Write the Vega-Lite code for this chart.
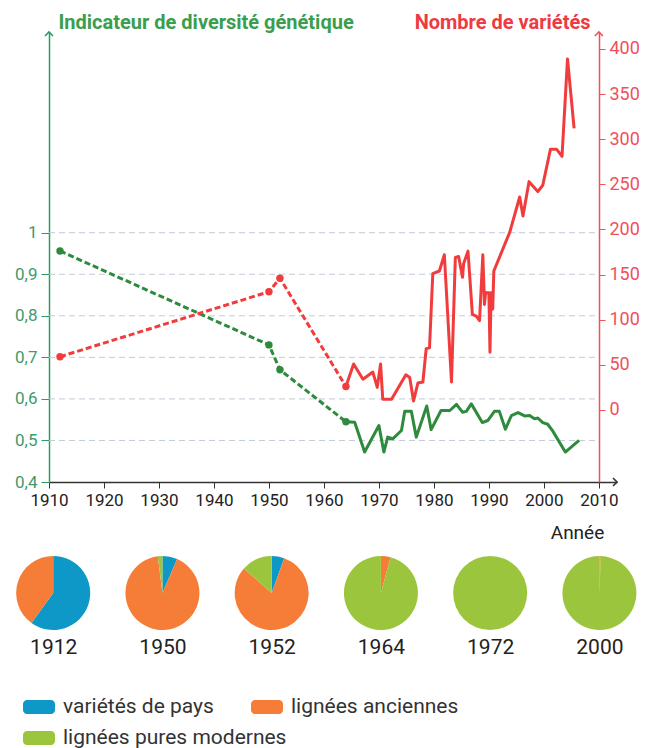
{
  "$schema": "https://vega.github.io/schema/vega-lite/v6.json",
  "padding": {"left": 14, "top": 12, "right": 0, "bottom": 0},
  "background": "white",
  "config": {"font": "Roboto", "view": {"stroke": null}},
  "spacing": 14,
  "vconcat": [
    {
      "width": 568,
      "height": 450,
      "encoding": {
        "x": {
          "field": "year", "type": "quantitative",
          "scale": {"domain": [1910, 2013.3], "nice": false, "zero": false},
          "axis": {
            "values": [1910, 1920, 1930, 1940, 1950, 1960, 1970, 1980, 1990, 2000, 2010],
            "format": "d", "grid": false,
            "domainColor": "#333333", "domainWidth": 1.5, "tickColor": "#333333", "tickSize": 6,
            "labelColor": "#222222", "labelFontSize": 17, "labelPadding": 4, "labelFlush": false, "labelOverlap": false,
            "title": "Année", "titleX": 528, "titleY": 50, "titleAlign": "center", "titleBaseline": "middle",
            "titleFontSize": 19, "titleFontWeight": "normal", "titleColor": "#222222"
          }
        }
      },
      "layer": [
        {
          "data": {"values": [
            {"seg": "grid", "year": 1910, "year2": 2010, "div": 0.5}, {"seg": "grid", "year": 1910, "year2": 2010, "div": 0.6},
            {"seg": "grid", "year": 1910, "year2": 2010, "div": 0.7}, {"seg": "grid", "year": 1910, "year2": 2010, "div": 0.8},
            {"seg": "grid", "year": 1910, "year2": 2010, "div": 0.9}, {"seg": "grid", "year": 1910, "year2": 2010, "div": 1.0},
            {"seg": "arrowup", "year": 1910, "div": 1.483},
            {"seg": "arrowred", "year": 2010, "div": 1.483},
            {"seg": "arrowright", "year": 2013.3, "div": 0.4},
            {"seg": "dash", "year": 1912, "div": 0.956}, {"seg": "dash", "year": 1950, "div": 0.730},
            {"seg": "dash", "year": 1952, "div": 0.670}, {"seg": "dash", "year": 1964, "div": 0.545},
            {"seg": "solid", "year": 1964, "div": 0.545}, {"seg": "solid", "year": 1965.6, "div": 0.544},
            {"seg": "solid", "year": 1967.4, "div": 0.472}, {"seg": "solid", "year": 1970, "div": 0.536},
            {"seg": "solid", "year": 1970.9, "div": 0.472}, {"seg": "solid", "year": 1971.6, "div": 0.508},
            {"seg": "solid", "year": 1972.5, "div": 0.504}, {"seg": "solid", "year": 1974.1, "div": 0.524},
            {"seg": "solid", "year": 1974.7, "div": 0.570}, {"seg": "solid", "year": 1975.9, "div": 0.570},
            {"seg": "solid", "year": 1976.8, "div": 0.508}, {"seg": "solid", "year": 1978.7, "div": 0.583},
            {"seg": "solid", "year": 1979.5, "div": 0.526}, {"seg": "solid", "year": 1981.3, "div": 0.572},
            {"seg": "solid", "year": 1982.9, "div": 0.572}, {"seg": "solid", "year": 1984.1, "div": 0.587},
            {"seg": "solid", "year": 1985.2, "div": 0.568}, {"seg": "solid", "year": 1985.9, "div": 0.570},
            {"seg": "solid", "year": 1986.8, "div": 0.588}, {"seg": "solid", "year": 1988.8, "div": 0.543},
            {"seg": "solid", "year": 1989.8, "div": 0.548}, {"seg": "solid", "year": 1991, "div": 0.570},
            {"seg": "solid", "year": 1991.9, "div": 0.570}, {"seg": "solid", "year": 1993, "div": 0.527},
            {"seg": "solid", "year": 1994.1, "div": 0.560}, {"seg": "solid", "year": 1995.3, "div": 0.567},
            {"seg": "solid", "year": 1996.5, "div": 0.559}, {"seg": "solid", "year": 1997.4, "div": 0.560},
            {"seg": "solid", "year": 1998.3, "div": 0.552}, {"seg": "solid", "year": 1998.9, "div": 0.554},
            {"seg": "solid", "year": 1999.8, "div": 0.543}, {"seg": "solid", "year": 2000.7, "div": 0.539},
            {"seg": "solid", "year": 2001.6, "div": 0.523}, {"seg": "solid", "year": 2003.9, "div": 0.472},
            {"seg": "solid", "year": 2006.4, "div": 0.500}
          ]},
          "encoding": {
            "y": {
              "field": "div", "type": "quantitative",
              "scale": {"domain": [0.4, 1.483], "nice": false, "zero": false},
              "axis": {
                "values": [0.4, 0.5, 0.6, 0.7, 0.8, 0.9, 1.0],
                "labelExpr": "datum.value >= 0.99 ? '1' : replace(format(datum.value, '.1f'), '.', ',')",
                "grid": false,
                "domainColor": "#2e9a66", "domainWidth": 1.5, "tickColor": "#2e9a66", "tickSize": 8,
                "labelColor": "#3f9a6c", "labelFontSize": 17, "labelPadding": 4,
                "title": "Indicateur de diversité génétique", "titleAngle": 0, "titleX": 9, "titleY": -4,
                "titleAlign": "left", "titleBaseline": "alphabetic", "titleColor": "#3a9e4e",
                "titleFontSize": 20, "titleFontWeight": "bold"
              }
            }
          },
          "layer": [
            {
              "transform": [{"filter": "datum.seg === 'grid'"}],
              "mark": {"type": "rule", "color": "#bfcad8", "strokeWidth": 1, "strokeDash": [6, 4]},
              "encoding": {"x2": {"field": "year2"}}
            },
            {
              "transform": [{"filter": "datum.seg === 'dash'"}],
              "mark": {"type": "line", "color": "#2e8b3d", "strokeWidth": 3, "strokeDash": [6, 3]}
            },
            {
              "transform": [{"filter": "datum.seg === 'dash'"}],
              "mark": {"type": "point", "filled": true, "opacity": 1, "color": "#2e8b3d", "size": 55}
            },
            {
              "transform": [{"filter": "datum.seg === 'solid'"}],
              "mark": {"type": "line", "color": "#2e8b3d", "strokeWidth": 3, "strokeJoin": "round"}
            },
            {
              "transform": [{"filter": "datum.seg === 'arrowup'"}],
              "mark": {"type": "point", "shape": "M-1,1L0,0L1,1", "filled": false, "stroke": "#2e9a66", "strokeWidth": 1.6, "size": 64, "opacity": 1}
            },
            {
              "transform": [{"filter": "datum.seg === 'arrowred'"}],
              "mark": {"type": "point", "shape": "M-1,1L0,0L1,1", "filled": false, "stroke": "#f0505a", "strokeWidth": 1.6, "size": 64, "opacity": 1}
            },
            {
              "transform": [{"filter": "datum.seg === 'arrowright'"}],
              "mark": {"type": "point", "shape": "M-1,-1L0,0L-1,1", "filled": false, "stroke": "#333333", "strokeWidth": 1.6, "size": 64, "opacity": 1}
            }
          ]
        },
        {
          "data": {"values": [
            {"seg": "dash", "year": 1912, "n": 59}, {"seg": "dash", "year": 1950, "n": 131},
            {"seg": "dash", "year": 1952, "n": 146}, {"seg": "dash", "year": 1964, "n": 26},
            {"seg": "solid", "year": 1964, "n": 26}, {"seg": "solid", "year": 1965.4, "n": 51},
            {"seg": "solid", "year": 1967.1, "n": 34}, {"seg": "solid", "year": 1968.9, "n": 42},
            {"seg": "solid", "year": 1969.7, "n": 25}, {"seg": "solid", "year": 1970.3, "n": 51},
            {"seg": "solid", "year": 1970.7, "n": 12}, {"seg": "solid", "year": 1972.3, "n": 12},
            {"seg": "solid", "year": 1974.9, "n": 39}, {"seg": "solid", "year": 1975.6, "n": 36},
            {"seg": "solid", "year": 1976.3, "n": 10}, {"seg": "solid", "year": 1977.1, "n": 30},
            {"seg": "solid", "year": 1978, "n": 31}, {"seg": "solid", "year": 1978.6, "n": 68},
            {"seg": "solid", "year": 1979.2, "n": 69}, {"seg": "solid", "year": 1979.8, "n": 151},
            {"seg": "solid", "year": 1981, "n": 154}, {"seg": "solid", "year": 1981.9, "n": 172},
            {"seg": "solid", "year": 1983.2, "n": 31}, {"seg": "solid", "year": 1983.9, "n": 169},
            {"seg": "solid", "year": 1984.5, "n": 170}, {"seg": "solid", "year": 1985.2, "n": 147},
            {"seg": "solid", "year": 1985.4, "n": 162}, {"seg": "solid", "year": 1986.2, "n": 176},
            {"seg": "solid", "year": 1987, "n": 106}, {"seg": "solid", "year": 1987.7, "n": 104},
            {"seg": "solid", "year": 1988.3, "n": 99}, {"seg": "solid", "year": 1988.9, "n": 172},
            {"seg": "solid", "year": 1989.2, "n": 117}, {"seg": "solid", "year": 1989.4, "n": 130},
            {"seg": "solid", "year": 1990, "n": 130}, {"seg": "solid", "year": 1990.2, "n": 64},
            {"seg": "solid", "year": 1990.4, "n": 130}, {"seg": "solid", "year": 1990.7, "n": 112},
            {"seg": "solid", "year": 1990.9, "n": 154}, {"seg": "solid", "year": 1993.8, "n": 197},
            {"seg": "solid", "year": 1995.6, "n": 236}, {"seg": "solid", "year": 1996.2, "n": 215},
            {"seg": "solid", "year": 1997.3, "n": 253}, {"seg": "solid", "year": 1998.9, "n": 242},
            {"seg": "solid", "year": 1999.8, "n": 249}, {"seg": "solid", "year": 2001.2, "n": 289},
            {"seg": "solid", "year": 2002.3, "n": 289}, {"seg": "solid", "year": 2003.3, "n": 281},
            {"seg": "solid", "year": 2004.3, "n": 389}, {"seg": "solid", "year": 2005.5, "n": 312}
          ]},
          "encoding": {
            "y": {
              "field": "n", "type": "quantitative",
              "scale": {"domain": [-79.8, 418.8], "nice": false, "zero": false},
              "axis": {
                "orient": "right", "offset": -18,
                "values": [0, 50, 100, 150, 200, 250, 300, 350, 400],
                "grid": false,
                "domainColor": "#f0505a", "domainWidth": 1.5, "tickColor": "#f0505a", "tickSize": 6,
                "labelColor": "#f0505a", "labelFontSize": 18, "labelPadding": 4,
                "title": "Nombre de variétés", "titleAngle": 0, "titleX": -9, "titleY": -4,
                "titleAlign": "right", "titleBaseline": "alphabetic", "titleColor": "#ee3a42",
                "titleFontSize": 20, "titleFontWeight": "bold"
              }
            }
          },
          "layer": [
            {
              "transform": [{"filter": "datum.seg === 'dash'"}],
              "mark": {"type": "line", "color": "#f03c3c", "strokeWidth": 3, "strokeDash": [6, 3]}
            },
            {
              "transform": [{"filter": "datum.seg === 'dash'"}],
              "mark": {"type": "point", "filled": true, "opacity": 1, "color": "#f03c3c", "size": 55}
            },
            {
              "transform": [{"filter": "datum.seg === 'solid'"}],
              "mark": {"type": "line", "color": "#f03c3c", "strokeWidth": 3, "strokeJoin": "round"}
            }
          ]
        }
      ],
      "resolve": {"scale": {"y": "independent"}}
    },
    {
      "width": 554.6,
      "height": 74,
      "data": {"values": [
        {"year": "1912", "type": "variétés de pays", "pct": 60},
        {"year": "1912", "type": "lignées anciennes", "pct": 40},
        {"year": "1912", "type": "lignées pures modernes", "pct": 0},
        {"year": "1950", "type": "variétés de pays", "pct": 6.5},
        {"year": "1950", "type": "lignées anciennes", "pct": 91.5},
        {"year": "1950", "type": "lignées pures modernes", "pct": 2},
        {"year": "1952", "type": "variétés de pays", "pct": 5.5},
        {"year": "1952", "type": "lignées anciennes", "pct": 81},
        {"year": "1952", "type": "lignées pures modernes", "pct": 13.5},
        {"year": "1964", "type": "variétés de pays", "pct": 0},
        {"year": "1964", "type": "lignées anciennes", "pct": 4.2},
        {"year": "1964", "type": "lignées pures modernes", "pct": 95.8},
        {"year": "1972", "type": "variétés de pays", "pct": 0},
        {"year": "1972", "type": "lignées anciennes", "pct": 0},
        {"year": "1972", "type": "lignées pures modernes", "pct": 100},
        {"year": "2000", "type": "variétés de pays", "pct": 0},
        {"year": "2000", "type": "lignées anciennes", "pct": 0.6},
        {"year": "2000", "type": "lignées pures modernes", "pct": 99.4}
      ]},
      "transform": [{"stack": "pct", "groupby": ["year"], "as": ["t0", "t1"]}],
      "mark": {"type": "arc", "outerRadius": 37, "strokeWidth": 0},
      "encoding": {
        "x": {
          "field": "year", "type": "nominal",
          "scale": {"type": "point", "padding": 0.0385},
          "axis": {"title": null, "domain": false, "ticks": false, "labelAngle": 0,
                   "labelFontSize": 21, "labelColor": "#222222", "labelPadding": 6}
        },
        "theta": {"field": "t0", "type": "quantitative", "stack": null, "scale": {"domain": [0, 100]}},
        "theta2": {"field": "t1"},
        "color": {
          "field": "type", "type": "nominal",
          "scale": {"domain": ["variétés de pays", "lignées anciennes", "lignées pures modernes"],
                    "range": ["#0e98c8", "#f57d37", "#9bc53c"]},
          "legend": {
            "orient": "none", "legendX": -26, "legendY": 659, "direction": "horizontal",
            "values": ["variétés de pays", "lignées anciennes"], "title": null,
            "symbolType": "M-0.75,-0.4375H0.75A0.25,0.25 0 0 1 1,-0.1875V0.1875A0.25,0.25 0 0 1 0.75,0.4375H-0.75A0.25,0.25 0 0 1 -1,0.1875V-0.1875A0.25,0.25 0 0 1 -0.75,-0.4375Z",
            "symbolSize": 1024, "symbolStrokeWidth": 0, "symbolOpacity": 1,
            "labelFontSize": 21, "labelColor": "#333333", "labelOffset": 8, "labelLimit": 400,
            "columnPadding": 37, "rowPadding": 0
          }
        },
        "stroke": {
          "field": "type", "type": "nominal",
          "scale": {"domain": ["lignées pures modernes"], "range": ["#9bc53c"]},
          "legend": {
            "orient": "none", "legendX": -26, "legendY": 690, "direction": "horizontal",
            "title": null,
            "symbolType": "M-0.75,-0.4375H0.75A0.25,0.25 0 0 1 1,-0.1875V0.1875A0.25,0.25 0 0 1 0.75,0.4375H-0.75A0.25,0.25 0 0 1 -1,0.1875V-0.1875A0.25,0.25 0 0 1 -0.75,-0.4375Z",
            "symbolSize": 1024, "symbolStrokeWidth": 0, "symbolOpacity": 1, "symbolFillColor": "#9bc53c",
            "labelFontSize": 21, "labelColor": "#333333", "labelOffset": 8, "labelLimit": 400
          }
        }
      }
    }
  ]
}
